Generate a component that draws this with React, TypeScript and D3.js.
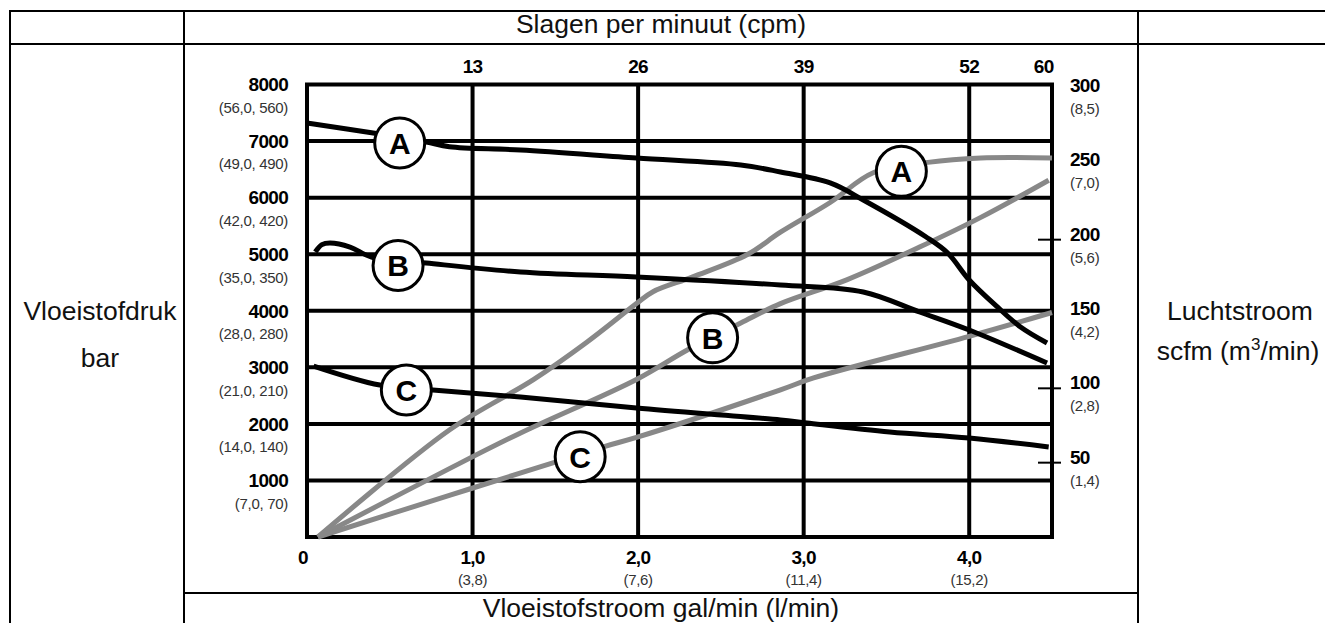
import React from "react";
import * as d3 from "d3";

// ---- data ----
const pressureTicks = [1000, 2000, 3000, 4000, 5000, 6000, 7000, 8000];
const pressureSub = ["(7,0, 70)", "(14,0, 140)", "(21,0, 210)", "(28,0, 280)", "(35,0, 350)", "(42,0, 420)", "(49,0, 490)", "(56,0, 560)"];
const flowTicks = [1, 2, 3, 4];
const flowLabels = ["1,0", "2,0", "3,0", "4,0"];
const flowSub = ["(3,8)", "(7,6)", "(11,4)", "(15,2)"];
const cpmLabels = ["13", "26", "39", "52", "60"];
const cpmPos = [1, 2, 3, 4, 4.45];
const airTicks = [50, 100, 150, 200, 250, 300];
const airSub = ["(1,4)", "(2,8)", "(4,2)", "(5,6)", "(7,0)", "(8,5)"];
const airTickMarks = [50, 100, 200];

// pressure curves [gal/min, psi]
const pressA: [number, number][] = [
  [0, 7320], [0.4, 7143], [0.72, 6984], [0.86, 6900], [1.29, 6842], [1.99, 6700], [2.62, 6577],
  [2.86, 6453], [3.16, 6259], [3.36, 5958], [3.74, 5304], [3.87, 5021], [4.0, 4544],
  [4.17, 4067], [4.31, 3713], [4.47, 3430],
];
const pressB: [number, number][] = [
  [0.05, 5040], [0.09, 5170], [0.14, 5198], [0.26, 5127], [0.39, 4950], [0.72, 4844],
  [1.29, 4685], [1.99, 4597], [2.86, 4455], [3.36, 4332], [3.7, 3978], [4.0, 3660], [4.47, 3076],
];
const pressC: [number, number][] = [
  [0.04, 3023], [0.44, 2687], [0.76, 2599], [1.29, 2475], [1.99, 2281], [2.86, 2069],
  [3.02, 2015], [3.52, 1856], [4.0, 1750], [4.48, 1591],
];
// air curves [gal/min, scfm]
const airA: [number, number][] = [
  [0.066, 0], [0.86, 72], [1.37, 106], [1.69, 131], [1.99, 157], [2.09, 165], [2.33, 175],
  [2.66, 190], [2.86, 205], [3.16, 225], [3.42, 245], [3.75, 252], [4.07, 255], [4.5, 255],
];
const airB: [number, number][] = [
  [0.066, 0], [0.86, 46], [1.29, 70], [1.99, 106], [2.3, 126], [2.62, 144], [2.86, 157],
  [3.26, 173], [3.7, 195], [4.07, 215], [4.48, 240],
];
const airC: [number, number][] = [
  [0.066, 0], [0.86, 28], [1.49, 50], [1.8, 61], [1.99, 67], [2.86, 99], [3.06, 107],
  [4.0, 135], [4.5, 151],
];
const pressLabels: { t: string; g: number; v: number }[] = [
  { t: "A", g: 0.56, v: 6966 },
  { t: "B", g: 0.55, v: 4800 },
  { t: "C", g: 0.6, v: 2599 },
];
const airLabels: { t: string; g: number; v: number }[] = [
  { t: "A", g: 3.59, v: 246 },
  { t: "B", g: 2.45, v: 134 },
  { t: "C", g: 1.65, v: 54 },
];

const FONT = "'Liberation Sans', Arial, Helvetica, sans-serif";

export default function App() {
  const x = d3.scaleLinear().domain([0, 4.5]).range([307, 1052]);
  const yP = d3.scaleLinear().domain([0, 8000]).range([537, 84.5]);
  const yA = d3.scaleLinear().domain([0, 300]).range([537, 91]);

  const lineP = d3.line<[number, number]>().x((d) => x(d[0])).y((d) => yP(d[1])).curve(d3.curveCatmullRom.alpha(0.5));
  const lineA = d3.line<[number, number]>().x((d) => x(d[0])).y((d) => yA(d[1])).curve(d3.curveCatmullRom.alpha(0.5));

  const x0 = x(0), x1 = x(4.5), yTop = yP(8000), yBot = yP(0);

  const numStyle: React.CSSProperties = { fontFamily: FONT, fontWeight: 700, fontSize: 19, letterSpacing: -0.7 };
  const subStyle: React.CSSProperties = { fontFamily: FONT, fontSize: 15, fill: "#333", letterSpacing: -0.3 };
  const bigStyle: React.CSSProperties = { fontFamily: FONT, fontSize: 26.5, fill: "#111" };

  const circle = (l: { t: string; g: number; v: number }, cy: number, key: string) => (
    <g key={key}>
      <circle cx={x(l.g)} cy={cy} r={25} fill="#fff" stroke="#000" strokeWidth={3} />
      <text x={x(l.g)} y={cy} dy="0.36em" textAnchor="middle" style={{ fontFamily: FONT, fontWeight: 700, fontSize: 30 }}>
        {l.t}
      </text>
    </g>
  );

  return (
    <svg width={1325} height={623} style={{ position: "absolute", left: 0, top: 0, background: "#fff" }}>
      {/* table */}
      <g stroke="#000" strokeWidth={2} fill="none">
        <rect x={10} y={11} width={1340} height={640} />
        <line x1={10} x2={1325} y1={44} y2={44} />
        <line x1={184} x2={184} y1={11} y2={623} />
        <line x1={1138} x2={1138} y1={11} y2={623} />
        <line x1={184} x2={1138} y1={593} y2={593} />
      </g>
      <text x={661} y={33} textAnchor="middle" style={bigStyle}>Slagen per minuut (cpm)</text>
      <text x={661} y={617} textAnchor="middle" style={bigStyle}>Vloeistofstroom gal/min (l/min)</text>
      <text x={100} y={320} textAnchor="middle" style={bigStyle}>Vloeistofdruk</text>
      <text x={100} y={367} textAnchor="middle" style={bigStyle}>bar</text>
      <text x={1240} y={320} textAnchor="middle" style={bigStyle}>Luchtstroom</text>
      <text x={1238} y={360} textAnchor="middle" style={bigStyle}>
        scfm (m<tspan dy={-10} style={{ fontSize: 17 }}>3</tspan><tspan dy={10}>/min)</tspan>
      </text>

      {/* grid */}
      <g stroke="#000" strokeWidth={4}>
        {pressureTicks.slice(0, -1).map((v) => (
          <line key={"h" + v} x1={x0} x2={x1} y1={yP(v)} y2={yP(v)} />
        ))}
        {flowTicks.map((v) => (
          <line key={"v" + v} x1={x(v)} x2={x(v)} y1={yTop} y2={yBot} />
        ))}
        <rect x={x0} y={yTop} width={x1 - x0} height={yBot - yTop} fill="none" />
      </g>
      <g stroke="#000" strokeWidth={2}>
        {airTickMarks.map((v) => (
          <line key={"t" + v} x1={x1 - 14} x2={x1 + 9} y1={yA(v)} y2={yA(v)} />
        ))}
      </g>

      {/* left labels */}
      {pressureTicks.map((v, i) => (
        <g key={"pl" + v}>
          <text x={288} y={yP(v)} dy="0.36em" textAnchor="end" style={numStyle}>{v}</text>
          <text x={288} y={yP(v) + 23} dy="0.36em" textAnchor="end" style={subStyle}>{pressureSub[i]}</text>
        </g>
      ))}
      {/* bottom labels */}
      <text x={x0 - 4} y={yBot + 20} dy="0.36em" textAnchor="middle" style={numStyle}>0</text>
      {flowTicks.map((v, i) => (
        <g key={"fl" + v}>
          <text x={x(v)} y={yBot + 20} dy="0.36em" textAnchor="middle" style={numStyle}>{flowLabels[i]}</text>
          <text x={x(v)} y={yBot + 43} dy="0.36em" textAnchor="middle" style={subStyle}>{flowSub[i]}</text>
        </g>
      ))}
      {/* top labels */}
      {cpmLabels.map((t, i) => (
        <text key={"c" + t} x={x(cpmPos[i])} y={yTop - 18} dy="0.36em" textAnchor="middle" style={numStyle}>{t}</text>
      ))}
      {/* right labels */}
      {airTicks.map((v, i) => (
        <g key={"al" + v}>
          <text x={1070} y={yA(v) - 6} dy="0.36em" textAnchor="start" style={numStyle}>{v}</text>
          <text x={1070} y={yA(v) + 17.5} dy="0.36em" textAnchor="start" style={subStyle}>{airSub[i]}</text>
        </g>
      ))}

      {/* curves */}
      <g fill="none" stroke="#888" strokeWidth={5}>
        <path d={lineA(airA) || ""} />
        <path d={lineA(airB) || ""} />
        <path d={lineA(airC) || ""} />
      </g>
      <g fill="none" stroke="#000" strokeWidth={5}>
        <path d={lineP(pressA) || ""} />
        <path d={lineP(pressB) || ""} />
        <path d={lineP(pressC) || ""} />
      </g>

      {pressLabels.map((l) => circle(l, yP(l.v), "p" + l.t))}
      {airLabels.map((l) => circle(l, yA(l.v), "a" + l.t))}
    </svg>
  );
}
